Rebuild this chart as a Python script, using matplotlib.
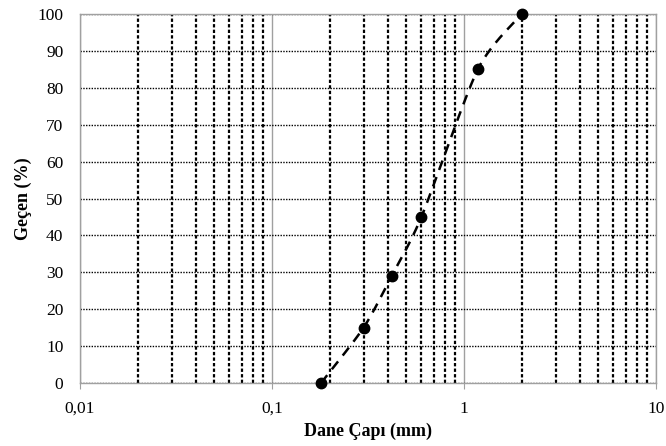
import numpy as np
import matplotlib
matplotlib.use("Agg")
import matplotlib.pyplot as plt
from matplotlib.ticker import FixedLocator, NullFormatter

# sieve data
grain_size = [0.18, 0.30, 0.42, 0.60, 1.18, 2.0]
passing = [0, 15, 29, 45, 85, 100]

x_ticks = [0.01, 0.1, 1, 10]
x_tick_labels = ["0,01", "0,1", "1", "10"]
y_ticks = list(range(0, 101, 10))


def smooth_curve(xs, ys, n=30, k=1 / 8):
    # excel-like smoothing (cardinal spline) in log-x space
    lx = np.log10(xs)
    ys = np.asarray(ys, dtype=float)
    P = np.column_stack([lx, ys])
    P = np.vstack([P[0], P, P[-1]])
    out = []
    for i in range(1, len(P) - 2):
        p0, p1, p2, p3 = P[i - 1], P[i], P[i + 1], P[i + 2]
        t = np.linspace(0, 1, n)[:, None]
        c1 = p1 + (p2 - p0) * k
        c2 = p2 - (p3 - p1) * k
        seg = ((1 - t) ** 3) * p1 + 3 * ((1 - t) ** 2) * t * c1 + 3 * (1 - t) * t ** 2 * c2 + t ** 3 * p2
        out.append(seg)
    out = np.vstack(out)
    return 10 ** out[:, 0], out[:, 1]


plt.rcParams['font.family'] = ['Liberation Serif', 'DejaVu Serif']

fig = plt.figure(figsize=(6.66, 4.46), dpi=100)
ax = fig.add_axes([80 / 666, 1 - 383 / 446, 576 / 666, 369 / 446])

ax.set_xscale("log")
ax.set_xlim(0.01, 10)
ax.set_ylim(0, 100)

# grid
ax.xaxis.set_major_locator(FixedLocator(x_ticks))
minors = [m * 10.0 ** e for e in (-2, -1, 0) for m in range(2, 10)]
ax.xaxis.set_minor_locator(FixedLocator(minors))
ax.xaxis.set_minor_formatter(NullFormatter())
ax.set_xticklabels(x_tick_labels)
ax.set_yticks(y_ticks)

ax.grid(which="major", axis="x", color="#a0a0a0", linewidth=1.0, linestyle="-")
ax.grid(which="minor", axis="x", color="black", linewidth=1.6, linestyle=(0, (1.5, 1.0)))
ax.grid(which="major", axis="y", color="black", linewidth=1.0, linestyle=(0, (1, 1)))
ax.set_axisbelow(True)

sx, sy = smooth_curve(grain_size, passing)
ax.plot(sx, sy, color="black", linewidth=1.8, linestyle=(0, (4, 3)))
ax.plot(grain_size, passing, "o", color="black", markersize=7.5, clip_on=False, zorder=5)

for s in ax.spines.values():
    s.set_color("#a0a0a0")
    s.set_linewidth(1.0)

ax.tick_params(axis="x", which="major", length=4, color="#a0a0a0", labelsize=12.5, pad=9)
ax.tick_params(axis="x", which="minor", length=0)
ax.tick_params(axis="y", length=0, labelsize=12.5, pad=12)

ax.set_xlabel("Dane Çapı (mm)", fontsize=13, fontweight="bold", labelpad=4)
ax.set_ylabel("Geçen (%)", fontsize=13, fontweight="bold", labelpad=4)

fig.savefig("out.png", dpi=100)
